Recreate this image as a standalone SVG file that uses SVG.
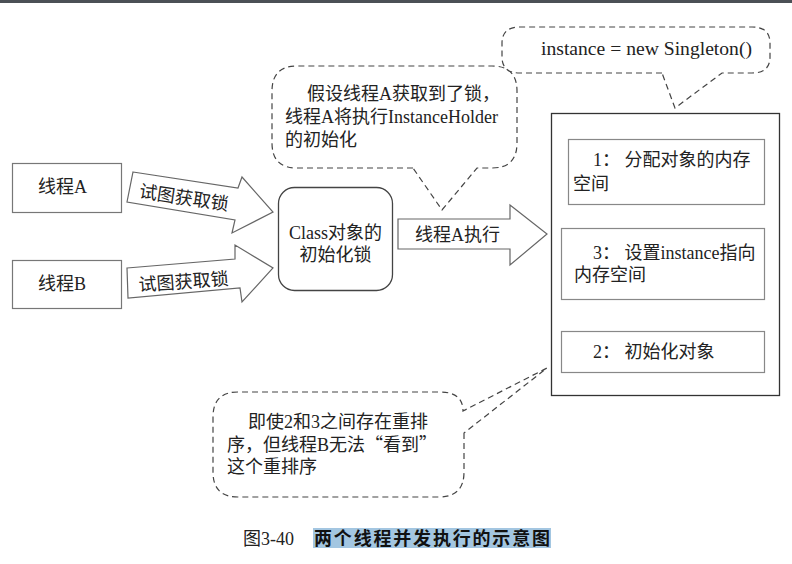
<svg xmlns="http://www.w3.org/2000/svg" width="792" height="564" viewBox="0 0 792 564">
<style>
  text { font-family: "Liberation Serif", "Noto Sans CJK SC", serif; font-size: 18px; fill: #222; }
  .cjk { font-family: "Noto Sans CJK SC", sans-serif; }
  .box { fill: #fff; stroke: #777; stroke-width: 1.2; }
  .inner { fill: #fff; stroke: #888; stroke-width: 1.2; }
  .outer { fill: #fff; stroke: #333; stroke-width: 1.3; }
  .lock { fill: #fff; stroke: #444; stroke-width: 1.3; }
  .bubble { fill: #fff; stroke: #444; stroke-width: 1.2; stroke-dasharray: 6 4; }
  .blk { fill: #fff; stroke: #666; stroke-width: 1.2; stroke-linejoin: miter; }
  .mid { text-anchor: middle; }
  .cap { font-family: "Liberation Sans", "Noto Sans CJK SC", sans-serif; font-weight: bold; font-size: 18px; fill: #111; }
</style>
<rect x="0" y="0" width="792" height="564" fill="#fff"/>
<rect x="0" y="0" width="792" height="3" fill="#4b5056"/>

<g id="threadA">
  <rect class="box" x="12.5" y="163.5" width="109" height="49"/>
  <text x="38" y="193">线程A</text>
</g>
<g id="threadB">
  <rect class="box" x="12.5" y="260.5" width="109" height="48"/>
  <text x="38" y="290">线程B</text>
</g>

<g id="lock">
  <rect class="lock" x="278.5" y="187.5" width="114" height="103" rx="16" ry="16"/>
  <text class="mid" x="335.5" y="239">Class对象的</text>
  <text class="mid" x="335.5" y="261">初始化锁</text>
</g>

<g id="connectors">
  <g id="arrowA">
    <polygon class="blk" points="133,172 238,188 242,177 273,212 232,233 235,220 127,202"/>
    <text class="mid" transform="translate(183,204) rotate(8.5)">试图获取锁</text>
  </g>
  <g id="arrowB">
    <polygon class="blk" points="127,268 235,259 235,245 273,268 242,302 240,288 128,298"/>
    <text class="mid" transform="translate(184,288) rotate(-4)">试图获取锁</text>
  </g>
  <g id="arrowExec">
    <polygon class="blk" points="398,219 510,219 510,205 547,234 510,265 510,249 398,249"/>
    <text x="415" y="241">线程A执行</text>
  </g>
</g>

<g id="bubbleLock">
  <path class="bubble" d="M413,168 L297,168 Q272,168 272,143 L272,91 Q272,66 297,66 L492,66 Q517,66 517,91 L517,143 Q517,168 492,168 L477,168 L442,210 Z"/>
  <text x="307" y="100">假设线程A获取到了锁，</text>
  <text x="285" y="123">线程A将执行InstanceHolder</text>
  <text x="285" y="146">的初始化</text>
</g>

<g id="bubbleNew">
  <path class="bubble" d="M662,73 L520,73 Q502,73 502,57 L502,43 Q502,27 520,27 L752,27 Q770,27 770,43 L770,57 Q770,73 752,73 L722,73 L675,108 Z"/>
  <text x="541" y="55" textLength="211" lengthAdjust="spacingAndGlyphs">instance = new Singleton()</text>
</g>

<g id="objectInit">
  <rect class="outer" x="551.5" y="113.5" width="228" height="282"/>
  <g id="step1">
    <rect class="inner" x="568.5" y="139.5" width="196" height="65"/>
    <text x="593" y="166">1：&#160;分配对象的内存</text>
    <text x="573" y="190">空间</text>
  </g>
  <g id="step3">
    <rect class="inner" x="561.5" y="228.5" width="203" height="71"/>
    <text x="593" y="259">3：&#160;设置instance指向</text>
    <text x="574" y="281">内存空间</text>
  </g>
  <g id="step2">
    <rect class="inner" x="561.5" y="331.5" width="203" height="41"/>
    <text x="593" y="358">2：&#160;初始化对象</text>
  </g>
</g>

<g id="bubbleReorder">
  <path class="bubble" d="M464,433 L464,472 Q464,497 439,497 L238,497 Q213,497 213,472 L213,417 Q213,392 238,392 L440,392 Q463,392 463,411 L547,368 Z"/>
  <text x="248" y="428">即使2和3之间存在重排</text>
  <text x="227" y="451">序，但线程B无法<tspan class="cjk">“</tspan>看到<tspan class="cjk">”</tspan></text>
  <text x="227" y="473">这个重排序</text>
</g>

<g id="caption">
  <rect x="313" y="528" width="238" height="20" fill="#a3c6e1"/>
  <text x="243" y="545" font-size="17">图3-40</text>
  <text class="cap" x="314" y="545" textLength="236" lengthAdjust="spacing">两个线程并发执行的示意图</text>
</g>
</svg>
